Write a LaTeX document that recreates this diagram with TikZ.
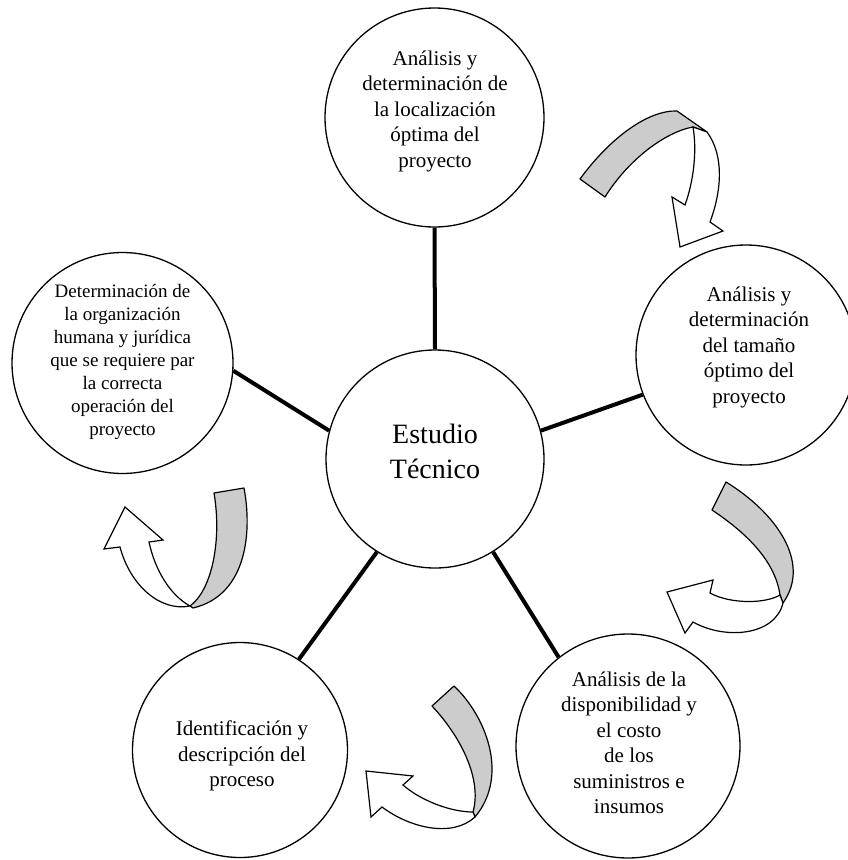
\documentclass[tikz,border=0pt]{standalone}
\usepackage{fontspec}
\setmainfont{Liberation Serif}
\definecolor{ribbongray}{RGB}{204,204,204}
\begin{document}
\begin{tikzpicture}[x=1pt,y=-1pt,
  topic/.style={circle, draw, line width=1.3pt, inner sep=0pt},
  caption/.style={align=center, inner sep=0pt, font=\fontsize{21}{25.5}\selectfont},
  spoke/.style={line width=4pt},
  ribbonback/.style={draw, line width=1.2pt, fill=ribbongray, line join=round},
  ribbonfront/.style={draw, line width=1.2pt, fill=white, line join=miter},
]
\useasboundingbox (0,0) rectangle (848,860);

% circles: central topic and the five surrounding stages
\node[topic, minimum size=218pt] (core) at (435,459) {};
\node[topic, minimum size=219pt] (loc) at (434.5,117.5) {};
\node[topic, minimum size=220pt] (size) at (746,355) {};
\node[topic, minimum size=224pt] (supply) at (628,746) {};
\node[topic, minimum size=215pt] (proc) at (240,750) {};
\node[topic, minimum size=221pt] (org) at (122.5,363) {};

% texts
\node[caption, font=\fontsize{28}{35}\selectfont] (coretxt) at (435,451) {Estudio\\Técnico};
\node[caption] (loctxt) at (435,111)
  {Análisis y\\determinación de\\la localización\\óptima del\\proyecto};
\node[caption] (sizetxt) at (749,347)
  {Análisis y\\determinación\\del tamaño\\óptimo del\\proyecto};
\node[caption] (supplytxt) at (629,743)
  {Análisis de la\\disponibilidad y\\el costo\\de los\\suministros e\\insumos};
\node[caption] (proctxt) at (242,756)
  {Identificación y\\descripción del\\proceso};
\node[caption, font=\fontsize{19}{23}\selectfont] (orgtxt) at (122.5,362)
  {Determinación de\\la organización\\humana y jurídica\\que se requiere par\\la correcta\\operación del\\proyecto};

% spokes
\draw[spoke] (core.90) -- (loc.270);
\draw[spoke] (core.15) -- (size.201);
\draw[spoke] (core.-58) -- (supply.128);
\draw[spoke] (core.238.5) -- (proc.57);
\draw[spoke] (core.165.6) -- (org.-4.8);

% twisted ribbon arrow: location -> size
\draw[ribbonback] (580,179) .. controls (610,138) and (648,110) .. (677,111)
  -- (707,132) -- (693,127) .. controls (665,132) and (628,160) .. (605,197) -- cycle;
\draw[ribbonfront] (693,127) .. controls (697,150) and (694,180) .. (685,205)
  -- (672,197) -- (680,247) -- (723,231) -- (710,222)
  .. controls (722,190) and (724,155) .. (707,132) -- cycle;

% twisted ribbon arrow: size -> supply
\draw[ribbonback] (726,482) .. controls (775,512) and (812,562) .. (783,603)
  -- (780,595) .. controls (775,560) and (745,532) .. (712,510) -- cycle;
\draw[ribbonfront] (780,595) .. controls (765,604) and (730,604) .. (710,593)
  -- (713,580) -- (667,592) -- (685,633) -- (693,622)
  .. controls (725,640) and (775,636) .. (783,603) -- cycle;

% twisted ribbon arrow: supply -> process
\draw[ribbonback] (454,686) .. controls (485,715) and (510,775) .. (475,817)
  -- (473,812) .. controls (482,780) and (462,738) .. (432,706) -- cycle;
\draw[ribbonfront] (473,812) .. controls (450,812) and (420,800) .. (403,785)
  -- (413,776) -- (366,771) -- (371,817) -- (382,807)
  .. controls (410,828) and (452,838) .. (475,817) -- cycle;

% twisted ribbon arrow: process -> organisation
\draw[ribbonback] (244,488) .. controls (252,530) and (248,595) .. (193,608)
  -- (190,606) .. controls (212,590) and (222,540) .. (214,493) -- cycle;
\draw[ribbonfront] (190,606) .. controls (160,612) and (130,585) .. (120,547)
  -- (104,549) -- (125,507) -- (163,540) -- (149,542)
  .. controls (155,570) and (170,595) .. (190,606) -- cycle;
\end{tikzpicture}
\end{document}
